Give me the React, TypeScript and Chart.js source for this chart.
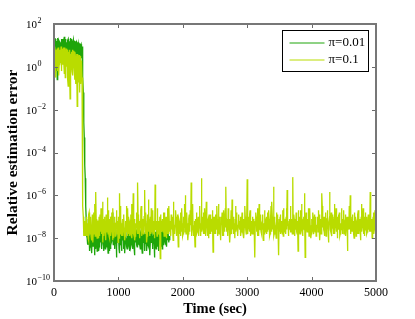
import React, { useEffect, useRef } from 'react';
import { Chart, registerables } from 'chart.js';

Chart.register(...registerables);

const T_START = 0;
const T_STEP = 10;
const T_HALF_OFFSET = 5;
const SERIES_LABELS = ['π=0.01', 'π=0.1'];
const SERIES_COLORS = ['rgb(30,165,10)', 'rgb(185,220,0)'];
const X_TICKS = [0, 1000, 2000, 3000, 4000, 5000];
const Y_TICK_EXP = [2, 0, -2, -4, -6, -8, -10];
const X_TITLE = 'Time (sec)';
const Y_TITLE = 'Relative estimation error';

// log10 of relative estimation error, pi = 0.01, samples at t = 0, 10, 20, ...
const LOG_ERR_PI001 = [
  1.2, -0.5, 1.3, 0.4, 1.1, -0.6, 1.35, 0.7, 1.2, 0.3,
  1.1, 0.8, 1.3, 0.5, 1.15, 0.9, 1.4, 0.6, 1.2, 0.2,
  1.1, 0.9, 1.3, 0.5, 1.2, 0.8, 1.35, 0.4, 1.1, 0.9,
  1.25, 0.6, 1.15, 0.85, 1.2, 0.3, 1.1, 0.9, 1.15, 0.5,
  1.0, 0.8, 1.05, 0.4,
  0.8, -0.5, -2.0, -3.3, -4.6, -5.9, -7.1, -7.9, -8.3,
  -8.1, -7.6, -8.5, -7.9, -8.3, -7.4, -8.7, -8.0, -7.7, -8.4, -8.8, -7.8, -8.2, -7.5, -8.6, -8.0, -7.3, -8.4, -7.9, -8.2,
  -7.6, -8.5, -8.1, -7.8, -8.6, -7.2, -8.3, -7.9, -8.4, -7.7, -8.0, -8.7, -7.5, -8.2, -7.9, -8.5, -7.0, -8.1, -6.8, -8.3,
  -7.8, -8.4, -8.0, -7.6, -8.9, -7.9, -8.2, -7.4, -8.5, -8.0, -7.7, -8.3, -8.6, -7.9, -7.3, -8.2, -8.0, -8.7, -7.6, -8.1,
  -8.4, -7.8, -8.2, -7.1, -8.6, -8.0, -7.7, -8.3, -7.9, -8.5, -7.5, -8.1, -8.8, -7.8, -8.2, -7.6, -8.4, -8.0, -7.3, -8.3,
  -7.9, -8.5, -7.7, -8.1, -8.7, -7.5, -8.2, -7.9, -8.4, -7.2, -8.0, -8.6, -7.8, -8.3, -7.6, -8.1, -8.8, -7.9, -8.2, -7.4,
  -8.5, -7.9, -8.2, -8.9, -7.7, -8.3, -8.0, -7.5, -8.4, -7.8, -8.6, -8.1, -7.3, -8.3, -7.9, -8.5, -7.6, -8.2, -8.0, -7.8,
  -8.3, -7.7, -8.4, -8.0, -7.6, -8.2, -7.9, -8.1,
];

// log10 of relative estimation error, pi = 0.01, samples at t = 5, 15, 25, ...
const LOG_ERR_PI001_MID = [
  0.5, 1.3, -0.2, 1.2, 0.6, 1.1, 0.2, 1.25, 0.6, 1.15,
  0.4, 1.2, 0.7, 1.3, 0.5, 1.2, 0.8, 1.3, 0.6, 1.15,
  0.5, 1.25, 0.7, 1.1, 0.4, 1.2, 0.8, 1.3, 0.5, 1.1,
  0.7, 1.2, 0.4, 1.1, 0.9, 1.15, 0.5, 1.05, 0.7, 1.1,
  0.5, 1.0, 0.6, 0.95,
  0.2, -1.2, -2.6, -3.9, -5.2, -6.5, -7.5, -8.0,
  -7.8, -8.3, -7.9, -8.6, -7.7, -8.2, -8.0, -7.5, -8.4, -7.9, -8.1, -7.6, -8.5, -8.0, -7.8, -8.3, -7.7, -8.6, -8.1, -7.6,
  -8.2, -7.9, -8.4, -7.5, -8.1, -8.0, -7.7, -8.5, -7.8, -8.2, -7.4, -8.3, -8.0, -7.8, -8.6, -7.6, -8.2, -7.5, -8.0, -7.9,
  -8.3, -7.7, -8.5, -8.1, -7.9, -8.4, -7.6, -8.2, -7.8, -8.7, -8.0, -7.5, -8.3, -7.9, -8.1, -7.7, -8.5, -7.8, -8.2, -7.6,
  -8.0, -8.5, -7.6, -8.3, -7.9, -8.1, -7.4, -8.4, -8.0, -7.7, -8.2, -7.9, -8.5, -7.6, -8.1, -7.8, -8.3, -7.5, -8.0, -8.2,
  -7.7, -8.3, -8.0, -7.6, -8.4, -7.9, -8.2, -7.7, -8.6, -7.8, -8.1, -7.5, -8.3, -7.9, -8.0, -8.4, -7.6, -8.2, -7.8, -8.1,
  -7.9, -8.4, -7.6, -8.2, -8.0, -7.7, -8.5, -7.9, -8.1, -7.6, -8.3, -7.8, -8.0, -8.4, -7.7, -8.2, -7.9, -8.3, -7.6, -8.1,
  -8.0, -7.8, -8.3, -7.7, -8.1, -7.9, -8.2, -8.0,
];

// log10 of relative estimation error, pi = 0.1, samples at t = 0, 10, 20, ...
const LOG_ERR_PI01 = [
  0.9, 0.2, 0.7, -0.5, 0.5, 0.85, -0.2, 0.6, 0.1, 0.8,
  0.3, 0.95, -0.1, 0.6, 0.4, 0.9, -0.3, 0.7, 0.2, 0.85,
  0.0, 0.6, -0.9, 0.5, 0.8, -1.5, 0.4, 0.7, -0.2, 0.6,
  0.3, 0.75, -0.6, 0.5, 0.1, 0.6, -1.85, 0.4, -0.3, 0.55,
  -1.2, 0.3, -0.4, 0.2, -2.5, -6.5, -7.6, -7.3, -7.9,
  -7.6, -7.1, -7.9, -7.3, -8.0, -6.9, -7.5, -7.8, -7.0, -7.6, -8.1, -7.2, -7.7, -6.8, -7.4, -7.9, -5.85, -7.5, -8.0, -7.2,
  -7.7, -7.0, -7.9, -7.3, -6.6, -7.8, -7.4, -8.2, -7.1, -7.6, -7.3, -7.9, -6.9, -7.5, -6.1, -7.8, -7.2, -8.0, -7.4, -7.0,
  -7.6, -6.8, -8.1, -7.3, -7.7, -7.0, -7.9, -7.4, -6.7, -7.8, -7.2, -7.6, -8.0, -5.9, -7.5, -7.1, -7.8, -7.3, -7.9, -6.9,
  -7.5, -8.1, -7.2, -7.7, -6.5, -7.9, -7.4, -7.0, -7.8, -7.3, -6.9, -7.6, -8.0, -7.2, -5.9, -7.7, -7.1, -7.9, -7.4, -6.8,
  -7.6, -5.4, -7.8, -7.2, -8.0, -7.3, -6.7, -7.9, -7.1, -7.6, -7.4, -7.0, -5.75, -7.8, -7.3, -8.2, -6.9, -7.5, -7.7, -7.1,
  -7.9, -7.3, -6.6, -7.7, -7.1, -7.8, -7.4, -8.0, -5.5, -7.6, -7.2, -7.9, -6.9, -7.5, -7.8, -7.0, -8.95, -7.4, -7.7, -7.2,
  -7.5, -6.8, -7.9, -7.3, -7.6, -7.0, -8.0, -7.4, -6.6, -7.8, -7.2, -7.5, -7.9, -6.9, -7.6, -7.3, -8.1, -7.0, -7.7, -7.4,
  -6.7, -7.9, -7.2, -7.6, -8.4, -7.1, -7.8, -7.4, -6.8, -7.7, -7.3, -7.9, -7.0, -7.5, -6.4, -6.0, -7.8, -7.2, -7.6, -8.1,
  -7.3, -6.9, -7.7, -7.4, -5.4, -7.8, -7.1, -7.6, -7.9, -7.2, -8.4, -7.5, -6.8, -7.8, -7.3, -7.0, -7.7, -6.5, -7.4, -7.9,
  -5.2, -7.5, -7.1, -7.8, -7.3, -6.6, -7.9, -7.4, -7.0, -7.7, -7.2, -8.0, -6.9, -7.5, -7.8, -7.1, -7.6, -6.7, -8.65, -7.3,
  -7.6, -7.0, -7.8, -7.4, -6.5, -7.9, -7.2, -7.7, -7.0, -7.5, -8.1, -7.3, -6.8, -7.6, -7.9, -7.1, -7.4, -6.6, -5.6, -7.7,
  -7.3, -7.9, -7.0, -7.6, -8.2, -7.2, -6.7, -7.8, -7.4, -7.0, -7.7, -7.3, -8.0, -6.5, -7.5, -7.1, -7.8, -7.4, -6.9, -7.6,
  -7.2, -7.9, -7.5, -6.8, -7.7, -7.1, -8.0, -7.4, -7.0, -7.6, -7.3, -5.25, -7.8, -7.2, -7.5, -6.9, -7.9, -7.3, -7.7, -7.0,
  -7.6, -7.2, -7.8, -8.9, -7.4, -7.0, -7.7, -6.6, -7.5, -7.9, -7.2, -7.6, -6.9, -7.8, -7.3, -7.0, -8.1, -7.4, -6.7, -7.7,
  -7.2, -7.8, -7.4, -6.8, -7.6, -7.1, -7.9, -7.3, -6.5, -7.7, -7.0, -7.5, -5.6, -7.8, -7.2, -7.6, -8.0, -7.3, -6.9, -7.7,
  -8.8, -7.4, -7.0, -7.8, -7.2, -7.6, -6.7, -7.9, -7.3, -7.5, -7.1, -7.8, -6.6, -5.75, -7.4, -7.9, -7.2, -7.6, -7.0, -7.7,
  -7.3, -7.8, -5.15, -7.5, -7.1, -7.9, -7.4, -6.8, -7.7, -7.2, -8.6, -7.5, -7.0, -7.8, -6.7, -7.6, -7.3, -7.9, -7.1, -7.5,
  -5.9, -8.9, -7.4, -7.0, -7.7, -7.3, -6.6, -7.9, -7.2, -7.6, -8.0, -7.1, -7.5, -6.8, -7.8, -7.3, -7.6, -7.0, -7.9, -7.4,
  -7.1, -7.7, -6.7, -7.5, -8.1, -7.2, -7.8, -5.9, -7.4, -7.0, -7.6, -7.9, -7.3, -6.8, -7.7, -7.1, -7.5, -8.2, -7.3, -5.85,
  -7.6, -7.2, -7.9, -6.9, -7.4, -7.7, -7.0, -7.8, -7.3, -6.6, -7.6, -8.0, -7.2, -7.5, -6.8, -7.9, -7.3, -7.6, -7.0, -7.8,
  -7.4, -6.7, -7.7, -7.2, -7.9, -7.5, -7.0, -8.6, -7.3, -7.6, -7.1, -6.0, -7.8, -7.4, -7.0, -7.7, -7.2, -8.0, -6.8, -7.5,
  -7.9, -7.3, -7.6, -6.9, -7.8, -7.2, -7.5, -8.1, -7.0, -7.7, -7.3, -6.6, -7.6, -7.9, -7.2, -7.5, -7.0, -7.8, -7.4, -6.9,
  -7.6, -7.3, -5.85, -7.7, -7.1, -8.0, -7.4, -6.8, -7.6, -7.2, -7.8, -7.4,
];

// log10 of relative estimation error, pi = 0.1, samples at t = 5, 15, 25, ...
const LOG_ERR_PI01_MID = [
  0.4, 0.95, -0.3, 0.8, 0.0, 0.6, 0.9, -0.4, 0.7, 0.2,
  0.6, -0.2, 0.85, 0.1, 0.75, 0.3, 0.9, -0.5, 0.6, 0.0,
  0.8, -0.6, 0.7, 0.2, -0.3, 0.6, -0.1, 0.5, 0.8, -0.4,
  0.6, 0.0, 0.7, -0.8, 0.5, 0.2, 0.6, -0.7, 0.4, 0.0,
  0.5, -0.8, 0.3, -0.5, -4.5, -7.0, -7.9, -7.2,
  -7.3, -7.9, -7.0, -7.7, -7.4, -8.1, -6.8, -7.6, -7.2, -7.9, -7.5, -6.9, -8.2, -7.3, -7.8, -6.4, -7.5, -7.1, -7.8, -7.4,
  -7.2, -8.0, -7.5, -6.9, -7.7, -7.1, -7.8, -6.3, -7.4, -7.9, -7.0, -7.6, -8.1, -7.2, -7.7, -7.3, -6.7, -7.9, -7.1, -7.6,
  -7.9, -7.2, -7.5, -6.6, -8.0, -7.4, -7.1, -7.8, -7.3, -6.9, -7.7, -8.2, -7.0, -7.5, -7.8, -6.5, -7.4, -7.9, -7.1, -7.6,
  -7.0, -7.6, -7.9, -7.3, -7.7, -7.1, -6.6, -7.8, -7.4, -7.9, -7.2, -7.7, -6.4, -7.5, -7.8, -7.0, -7.6, -8.1, -7.3, -7.5,
  -7.1, -7.8, -6.9, -7.5, -7.2, -7.9, -7.4, -6.5, -7.7, -7.2, -7.8, -7.5, -7.0, -7.6, -6.8, -7.4, -7.9, -7.1, -6.2, -7.7,
  -7.4, -7.0, -7.8, -7.3, -7.7, -6.7, -7.5, -7.2, -7.9, -7.0, -7.6, -7.4, -6.6, -7.8, -7.2, -7.5, -7.9, -6.9, -7.3, -7.6,
  -7.1, -7.7, -7.4, -6.8, -7.9, -7.2, -7.5, -7.0, -7.8, -7.3, -6.5, -7.7, -7.2, -7.9, -7.4, -7.0, -7.6, -6.3, -7.5, -7.8,
  -7.4, -7.0, -7.7, -6.9, -7.5, -7.8, -7.2, -7.6, -7.9, -7.1, -6.6, -7.5, -7.8, -7.2, -7.4, -7.7, -7.0, -7.5, -6.8, -7.3,
  -7.8, -7.1, -7.5, -6.7, -7.3, -7.9, -7.0, -6.4, -7.6, -7.4, -7.8, -7.1, -7.5, -6.9, -7.7, -7.2, -7.9, -7.4, -6.6, -7.6,
  -7.3, -7.7, -7.0, -7.5, -6.8, -7.8, -7.2, -7.6, -6.3, -7.4, -7.9, -7.1, -7.5, -7.8, -6.9, -7.4, -7.7, -7.2, -7.5, -7.0,
  -7.2, -7.8, -7.4, -6.9, -7.6, -7.1, -7.5, -6.4, -7.8, -7.3, -7.6, -7.0, -7.4, -7.9, -7.2, -6.7, -7.7, -7.3, -7.5, -7.1,
  -7.7, -7.3, -6.6, -7.5, -7.1, -7.8, -7.4, -7.0, -6.2, -7.6, -7.2, -7.8, -7.4, -7.1, -7.7, -6.8, -7.5, -7.9, -7.2, -7.4,
  -7.5, -7.0, -7.7, -7.3, -6.9, -7.8, -7.2, -7.5, -6.5, -7.4, -7.8, -7.1, -7.6, -7.3, -7.0, -7.7, -6.7, -7.5, -7.2, -7.8,
  -7.3, -7.8, -7.1, -7.5, -7.2, -6.8, -7.6, -7.3, -7.9, -7.0, -6.4, -7.5, -7.2, -7.7, -7.4, -7.6, -6.9, -7.3, -7.8, -7.1,
  -7.6, -7.3, -7.0, -7.7, -7.4, -6.7, -7.5, -7.8, -7.1, -7.4, -6.3, -7.6, -7.2, -7.9, -7.0, -7.4, -7.7, -6.8, -7.5, -7.2,
  -7.5, -7.1, -7.7, -6.9, -7.5, -7.2, -7.8, -7.4, -6.6, -7.7, -7.3, -7.5, -7.0, -7.6, -6.9, -7.4, -7.8, -7.1, -7.4, -6.5,
  -7.7, -7.1, -7.4, -7.8, -6.9, -7.5, -7.2, -7.6, -7.0, -7.8, -7.4, -6.7, -7.3, -7.6, -7.1, -7.8, -6.4, -7.5, -7.3, -7.0,
  -7.6, -7.2, -7.8, -6.8, -7.5, -7.1, -7.7, -7.3, -7.5, -6.6, -7.4, -7.8, -7.2, -7.6, -7.0, -7.5, -6.9, -7.7, -7.2, -7.6,
  -7.4, -7.0, -7.6, -7.3, -6.9, -7.5, -7.1, -7.7, -6.5, -7.5, -7.3, -7.7, -7.0, -7.4, -7.9, -7.1, -6.7, -7.6, -7.4, -7.1,
  -7.2, -7.7, -6.8, -7.5, -7.1, -7.3, -7.8, -6.4, -7.5, -7.2, -7.7, -7.0, -7.4, -6.9, -7.6, -7.2, -7.8, -7.4, -6.6, -7.5,
  -7.1, -7.5, -7.8, -7.3, -6.9, -7.6, -7.2, -7.7, -7.0, -7.5, -6.5, -7.6, -7.3, -7.1, -7.7, -6.9, -7.4, -7.8, -7.2, -7.5,
  -7.0, -7.6, -7.2, -7.8, -6.7, -7.4, -7.1, -7.7, -7.3, -6.4, -7.5, -7.2, -7.8, -7.0, -7.6, -6.8, -7.4, -7.2, -7.7, -7.3,
  -7.5, -7.1, -7.7, -6.9, -7.4, -7.2, -7.6, -7.0, -7.8, -7.3, -6.7, -7.5,
];

const SERIF = '"Liberation Serif", "Times New Roman", serif';

function toPoints(logs: number[], mids: number[]) {
  const pts: { x: number; y: number }[] = [];
  logs.forEach((v, i) => {
    const t = T_START + i * T_STEP;
    pts.push({ x: t, y: Math.pow(10, v) });
    if (i < mids.length) pts.push({ x: t + T_HALF_OFFSET, y: Math.pow(10, mids[i]) });
  });
  return pts;
}

const matlabAxes = {
  id: 'matlabAxes',
  afterDatasetsDraw(chart: any) {
    const { ctx, chartArea } = chart;
    const xs = chart.scales.x;
    const ys = chart.scales.y;
    const { left, right, top, bottom } = chartArea;
    ctx.save();

    ctx.strokeStyle = '#6a6a6a';
    ctx.lineWidth = 1;
    const TL = 4;
    X_TICKS.forEach((t) => {
      const px = Math.round(xs.getPixelForValue(t)) + 0.5;
      ctx.beginPath();
      ctx.moveTo(px, bottom);
      ctx.lineTo(px, bottom - TL);
      ctx.moveTo(px, top);
      ctx.lineTo(px, top + TL);
      ctx.stroke();
    });
    Y_TICK_EXP.forEach((e) => {
      const py = Math.round(ys.getPixelForValue(Math.pow(10, e))) + 0.5;
      ctx.beginPath();
      ctx.moveTo(left, py);
      ctx.lineTo(left + TL, py);
      ctx.moveTo(right, py);
      ctx.lineTo(right - TL, py);
      ctx.stroke();
    });

    ctx.strokeStyle = '#777777';
    ctx.lineWidth = 2;
    ctx.strokeRect(left, top, right - left, bottom - top);

    ctx.fillStyle = '#000';
    ctx.font = `12px ${SERIF}`;
    ctx.textAlign = 'center';
    ctx.textBaseline = 'middle';
    X_TICKS.forEach((t) => {
      ctx.fillText(String(t), xs.getPixelForValue(t), bottom + 12);
    });

    Y_TICK_EXP.forEach((e) => {
      const py = ys.getPixelForValue(Math.pow(10, e));
      ctx.font = `11px ${SERIF}`;
      ctx.textAlign = 'left';
      ctx.textBaseline = 'middle';
      const lx = left - 28;
      ctx.fillText('10', lx, py + 1);
      const w = ctx.measureText('10').width;
      ctx.font = `8px ${SERIF}`;
      ctx.textBaseline = 'alphabetic';
      ctx.fillText(e < 0 ? '\u2212' + String(-e) : String(e), lx + w + 0.5, py - 1);
    });

    ctx.font = `bold 14.5px ${SERIF}`;
    ctx.textAlign = 'center';
    ctx.textBaseline = 'middle';
    ctx.fillText(X_TITLE, (left + right) / 2, bottom + 28);
    ctx.save();
    ctx.translate(13, (top + bottom) / 2);
    ctx.rotate(-Math.PI / 2);
    ctx.font = `bold 15.5px ${SERIF}`;
    ctx.fillText(Y_TITLE, 0, 0);
    ctx.restore();

    const bw = 86;
    const bh = 41;
    const bx = Math.round(right - 8 - bw) + 0.5;
    const by = Math.round(top + 6) + 0.5;
    ctx.fillStyle = '#fff';
    ctx.fillRect(bx, by, bw, bh);
    ctx.strokeStyle = '#000';
    ctx.lineWidth = 1;
    ctx.strokeRect(bx, by, bw, bh);
    SERIES_LABELS.forEach((lab, i) => {
      const ly = Math.round(by + 12 + i * 17);
      ctx.strokeStyle = SERIES_COLORS[i];
      ctx.lineWidth = 1;
      ctx.beginPath();
      ctx.moveTo(bx + 7, ly);
      ctx.lineTo(bx + 42, ly);
      ctx.stroke();
      ctx.fillStyle = '#000';
      ctx.font = `13px ${SERIF}`;
      ctx.textAlign = 'left';
      ctx.textBaseline = 'middle';
      ctx.fillText(lab, bx + 46, ly);
    });

    ctx.restore();
  },
};

export default function App() {
  const ref = useRef<HTMLCanvasElement | null>(null);
  useEffect(() => {
    if (!ref.current) return;
    const chart = new Chart(ref.current, {
      type: 'line',
      data: {
        datasets: [
          {
            label: SERIES_LABELS[0],
            data: toPoints(LOG_ERR_PI001, LOG_ERR_PI001_MID),
            borderColor: SERIES_COLORS[0],
            borderWidth: 1.3,
            pointRadius: 0,
            tension: 0,
            order: 1,
          },
          {
            label: SERIES_LABELS[1],
            data: toPoints(LOG_ERR_PI01, LOG_ERR_PI01_MID),
            borderColor: SERIES_COLORS[1],
            borderWidth: 1.3,
            pointRadius: 0,
            tension: 0,
            order: 0,
          },
        ],
      },
      options: {
        responsive: false,
        animation: false,
        events: [],
        layout: { padding: { left: 54, right: 39, top: 24, bottom: 38 } },
        plugins: { legend: { display: false }, tooltip: { enabled: false } },
        scales: {
          x: { type: 'linear', min: 0, max: 5000, display: false },
          y: { type: 'logarithmic', min: 1e-10, max: 1e2, display: false },
        },
      },
      plugins: [matlabAxes],
    });
    return () => chart.destroy();
  }, []);
  return (
    <div style={{ position: 'absolute', left: 0, top: 0, width: 415, height: 319, background: '#fff' }}>
      <canvas ref={ref} width={415} height={319} />
    </div>
  );
}
